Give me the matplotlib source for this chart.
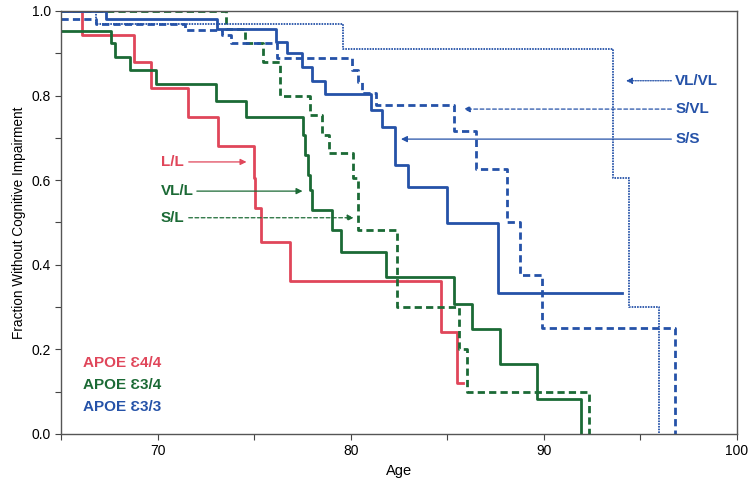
"""
Kaplan-Meier style curves: fraction without cognitive impairment by age,
split by APOE genotype and 5-HTTLPR-like allele groups.
"""
import matplotlib
matplotlib.use("Agg")
import matplotlib.pyplot as plt
from matplotlib.ticker import MultipleLocator

plt.rcParams['font.family'] = ['Liberation Sans', 'DejaVu Sans']

RED = '#e0465a'
GREEN = '#1b6a35'
BLUE = '#2552a8'

# APOE e4/4, L/L
red_ll_age = [65.0, 66.1, 68.8, 69.65, 71.55, 73.1, 75.0, 75.05, 75.35, 76.85, 84.65, 85.5, 85.8]
red_ll_frac = [1.0, 0.943, 0.88, 0.819, 0.749, 0.681, 0.606, 0.534, 0.453, 0.362, 0.240, 0.12, 0.12]

# APOE e3/4, VL/L (solid)
green_vll_age = [65.0, 67.6, 67.8, 68.55, 69.9, 73.0, 74.6, 77.55, 77.65, 77.8, 77.9, 78.0,
                 79.05, 79.5, 81.8, 85.35, 86.3, 87.75, 89.65, 91.9]
green_vll_frac = [0.953, 0.924, 0.892, 0.861, 0.827, 0.788, 0.749, 0.707, 0.66, 0.612, 0.577, 0.530,
                  0.481, 0.431, 0.370, 0.307, 0.247, 0.165, 0.082, 0.0]

# APOE e3/4, S/L (dashed)
green_sl_age = [65.0, 73.55, 74.5, 75.45, 76.35, 77.9, 78.5, 78.85, 80.1, 80.4, 82.4, 85.6, 86.0, 92.35]
green_sl_frac = [1.0, 0.957, 0.924, 0.88, 0.799, 0.754, 0.707, 0.663, 0.604, 0.481, 0.301, 0.2, 0.1, 0.0]

# APOE e3/3, S/S (solid)
blue_ss_age = [65.0, 67.35, 73.05, 76.15, 76.7, 77.5, 78.0, 78.65, 81.05, 81.6, 82.3, 82.95, 85.0, 87.6, 94.05]
blue_ss_frac = [1.0, 0.980, 0.957, 0.927, 0.90, 0.868, 0.834, 0.803, 0.766, 0.726, 0.636, 0.583, 0.498, 0.333, 0.333]

# APOE e3/3, S/VL (dashed)
blue_svl_age = [65.0, 66.8, 71.4, 73.35, 73.8, 76.2, 80.05, 80.4, 80.6, 81.3, 85.35, 86.5, 88.1, 88.75, 89.9, 96.8]
blue_svl_frac = [0.980, 0.969, 0.955, 0.943, 0.924, 0.888, 0.86, 0.833, 0.806, 0.778, 0.716, 0.626, 0.502, 0.376, 0.251, 0.0]

# APOE e3/3, VL/VL (dotted)
blue_vlvl_age = [65.0, 66.8, 79.6, 93.6, 94.4, 95.95]
blue_vlvl_frac = [1.0, 0.969, 0.909, 0.606, 0.301, 0.0]

# curve labels: (text, colour, text x, text y, arrow tip x, arrow style)
left_labels = [
    ('L/L', RED, 70.15, 0.643, 74.6, '-'),
    ('VL/L', GREEN, 70.15, 0.574, 77.5, '-'),
    ('S/L', GREEN, 70.15, 0.511, 80.15, '--'),
]
right_labels = [
    ('VL/VL', BLUE, 96.8, 0.835, 94.25, ':'),
    ('S/VL', BLUE, 96.8, 0.768, 85.85, '--'),
    ('S/S', BLUE, 96.8, 0.697, 82.6, '-'),
]
legend_labels = ['APOE \u01904/4', 'APOE \u01903/4', 'APOE \u01903/3']
legend_colors = [RED, GREEN, BLUE]
legend_y = [0.168, 0.116, 0.063]

fig = plt.figure(figsize=(7.54, 4.88), dpi=100)
ax = fig.add_axes([0.081, 0.111, 0.8965, 0.8665])

ax.step(red_ll_age, red_ll_frac, where='post', color=RED, lw=2.0)
ax.step(green_vll_age, green_vll_frac, where='post', color=GREEN, lw=2.0)
ax.step(green_sl_age, green_sl_frac, where='post', color=GREEN, lw=2.0, dashes=(2.6, 1.5))
ax.step(blue_ss_age, blue_ss_frac, where='post', color=BLUE, lw=2.0)
ax.step(blue_svl_age, blue_svl_frac, where='post', color=BLUE, lw=2.0, dashes=(2.6, 1.5))
ax.step(blue_vlvl_age, blue_vlvl_frac, where='post', color=BLUE, lw=1.3, dashes=(0.9, 0.6))

ls_map = {'-': '-', '--': (0, (3, 2)), ':': (0, (1, 1))}

for text, col, tx, ty, tip, ls in left_labels:
    ax.text(tx, ty, text, color=col, fontsize=11, fontweight='bold', va='center', ha='left')
    start = tx + len(text) * 0.42 + 0.2
    ax.annotate('', xy=(tip, ty), xytext=(start, ty),
                arrowprops=dict(arrowstyle='-|>', color=col, lw=0.9, linestyle=ls_map[ls],
                                mutation_scale=9, shrinkA=0, shrinkB=0))

for text, col, tx, ty, tip, ls in right_labels:
    ax.text(tx, ty, text, color=col, fontsize=11, fontweight='bold', va='center', ha='left')
    ax.annotate('', xy=(tip, ty), xytext=(tx - 0.2, ty),
                arrowprops=dict(arrowstyle='-|>', color=col, lw=0.9, linestyle=ls_map[ls],
                                mutation_scale=9, shrinkA=0, shrinkB=0))

for lab, col, ly in zip(legend_labels, legend_colors, legend_y):
    ax.text(66.15, ly, lab, color=col, fontsize=11, fontweight='bold', va='center', ha='left')

ax.set_xlim(65, 100)
ax.set_ylim(0, 1.0)
ax.xaxis.set_major_locator(MultipleLocator(10))
ax.xaxis.set_minor_locator(MultipleLocator(5))
ax.yaxis.set_major_locator(MultipleLocator(0.2))
ax.yaxis.set_minor_locator(MultipleLocator(0.1))
ax.yaxis.set_major_formatter(matplotlib.ticker.FormatStrFormatter('%.1f'))
ax.tick_params(which='both', direction='out', length=4, width=0.8, color='#444444', labelsize=10)
for s in ax.spines.values():
    s.set_color('#555555')
    s.set_linewidth(1.0)

ax.set_xlabel('Age', fontsize=10.5)
ax.set_ylabel('Fraction Without Cognitive Impairment', fontsize=9.8)

fig.savefig('out.png', dpi=100)
